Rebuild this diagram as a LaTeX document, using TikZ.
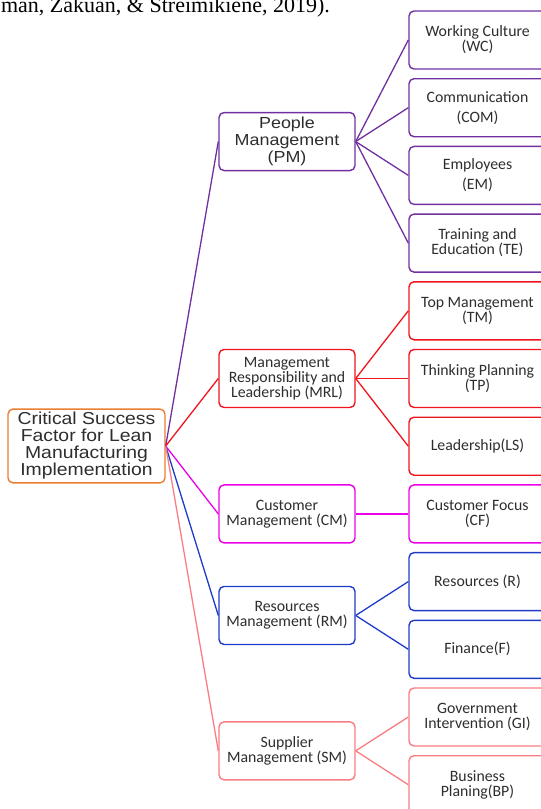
\documentclass[tikz,border=0pt]{standalone}
\usepackage{fontspec}
\setmainfont{Carlito}
\newfontfamily\arialfont[FakeStretch=1.12]{Liberation Sans}
\newfontfamily\timesfont{Liberation Serif}
\usetikzlibrary{calc}

\definecolor{rootcol}{RGB}{237,125,49}
\definecolor{pmcol}{RGB}{112,48,160}
\definecolor{mrlcol}{RGB}{240,20,30}
\definecolor{cmcol}{RGB}{235,0,235}
\definecolor{rmcol}{RGB}{30,60,200}
\definecolor{smcol}{RGB}{250,125,130}

\begin{document}
\begin{tikzpicture}[x=1pt, y=-1pt, node distance=67.7pt,
    every node/.style={align=center}]
  \tikzset{%
  % Specifications for style of nodes:
            base/.style = {rectangle, rounded corners=5pt, line width=1.4pt,
                           fill=white, text=black!82},
            root/.style = {base, draw=rootcol, minimum width=157pt, minimum height=72pt,
                           font=\arialfont\fontsize{17.3}{17}\selectfont},
          factor/.style = {base, minimum width=136pt, minimum height=58pt,
                           font=\fontsize{15.8}{15}\selectfont},
        topfactor/.style = {factor, font=\arialfont\fontsize{16}{16.7}\selectfont},
            item/.style = {base, minimum width=137pt, minimum height=58pt,
                           font=\fontsize{15.8}{15}\selectfont},
            link/.style = {line width=1.3pt},
  }
  \useasboundingbox (0,0) rectangle (541,809);

  % text cut off above the figure
  \node (cite) [anchor=base east, inner sep=0pt,
     font=\timesfont\fontsize{22}{22}\selectfont] at (330,12)
     {man, Zakuan, \& Streimikiene, 2019).};

  % right column (sub factors)
  \node (wc) [item, draw=pmcol] at (477.5,40) {Working Culture\\(WC)};
  \node (com) [item, draw=pmcol, below of=wc] {Communication\\[5pt](COM)};
  \node (em) [item, draw=pmcol, below of=com] {Employees\\[5pt](EM)};
  \node (te) [item, draw=pmcol, below of=em] {Training and\\Education (TE)};

  \node (tm) [item, draw=mrlcol, below of=te] {Top Management\\(TM)};
  \node (tp) [item, draw=mrlcol, below of=tm] {Thinking Planning\\(TP)};
  \node (ls) [item, draw=mrlcol, below of=tp] {Leadership(LS)};

  \node (cf) [item, draw=cmcol, below of=ls] {Customer Focus\\(CF)};

  \node (res) [item, draw=rmcol, below of=cf] {Resources (R)};
  \node (fin) [item, draw=rmcol, below of=res] {Finance(F)};

  \node (gi) [item, draw=smcol, below of=fin] {Government\\Intervention (GI)};
  \node (bp) [item, draw=smcol, below of=gi] {Business\\Planing(BP)};

  % middle column (factors)
  \node (pm) [topfactor, draw=pmcol] at ($(com)!0.5!(em)+(-190.5,0)$)
     {People\\Management\\(PM)};
  \node (mrl) [factor, draw=mrlcol] at ($(tp)+(-190.5,0)$)
     {Management\\Responsibility and\\Leadership (MRL)};
  \node (cm) [factor, draw=cmcol] at ($(cf)+(-190.5,0)$)
     {Customer\\Management (CM)};
  \node (rm) [factor, draw=rmcol] at ($(res)!0.5!(fin)+(-190.5,0)$)
     {Resources\\Management (RM)};
  \node (sm) [factor, draw=smcol] at ($(gi)!0.5!(bp)+(-190.5,0)$)
     {Supplier\\Management (SM)};

  % root
  \node (root) [root] at (86.5,446)
     {Critical Success\\Factor for Lean\\Manufacturing\\Implementation};

  % lines from the root to the factors
  \draw[link, pmcol] (root.east) -- (pm.west);
  \draw[link, mrlcol] (root.east) -- (mrl.west);
  \draw[link, cmcol] (root.east) -- (cm.west);
  \draw[link, rmcol] (root.east) -- (rm.west);
  \draw[link, smcol] (root.east) -- (sm.west);

  % lines from the factors to the sub factors
  \draw[link, pmcol] (pm.east) -- (wc.west);
  \draw[link, pmcol] (pm.east) -- (com.west);
  \draw[link, pmcol] (pm.east) -- (em.west);
  \draw[link, pmcol] (pm.east) -- (te.west);

  \draw[link, mrlcol] (mrl.east) -- (tm.west);
  \draw[link, mrlcol] (mrl.east) -- (tp.west);
  \draw[link, mrlcol] (mrl.east) -- (ls.west);

  \draw[link, cmcol] (cm.east) -- (cf.west);

  \draw[link, rmcol] (rm.east) -- (res.west);
  \draw[link, rmcol] (rm.east) -- (fin.west);

  \draw[link, smcol] (sm.east) -- (gi.west);
  \draw[link, smcol] (sm.east) -- (bp.west);
\end{tikzpicture}
\end{document}
